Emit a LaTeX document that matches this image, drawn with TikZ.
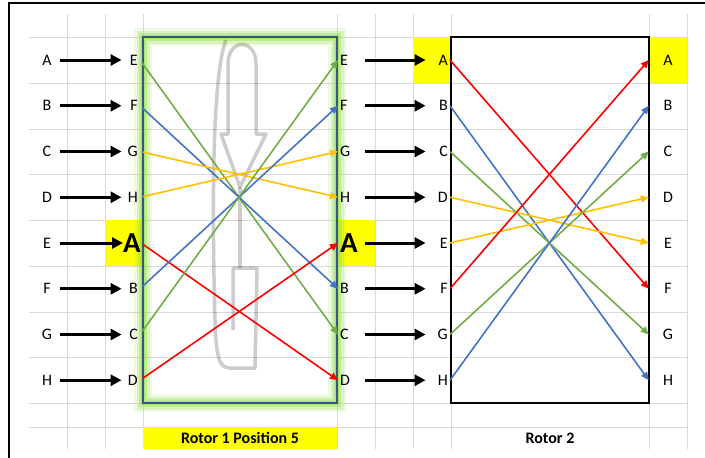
\documentclass[tikz,border=0pt]{standalone}
\usepackage{fontspec}
\setmainfont{Carlito}
\usepackage{tikz}
\usetikzlibrary{arrows.meta}

\definecolor{wred}{RGB}{255,0,0}
\definecolor{wblue}{RGB}{68,114,196}
\definecolor{wgreen}{RGB}{112,173,71}
\definecolor{wyellow}{RGB}{255,192,0}
\definecolor{hilite}{RGB}{255,255,0}
\definecolor{cellgray}{RGB}{217,217,217}
\definecolor{glowgreen}{RGB}{150,222,80}
\definecolor{rotorblue}{RGB}{56,87,122}

\begin{document}
\begin{tikzpicture}[x=1pt, y=-1pt, font=\fontsize{16}{19}\selectfont,
        cell/.style={cellgray, line width=0.8pt},
        key/.style={minimum width=26pt, inner sep=0pt},
        inpin/.style={anchor=east, text width=14pt, align=right, inner sep=2pt},
        outpin/.style={anchor=west, text width=23pt, align=left, inner sep=2pt},
        inpin2/.style={anchor=east, text width=20pt, align=right, inner sep=2pt},
        outpin2/.style={minimum width=38pt, inner sep=0pt},
        big/.style={font=\fontsize{29}{32}\selectfont\bfseries},
        caption/.style={font=\fontsize{16}{19}\selectfont\bfseries},
        feed/.style={line width=3pt, -{Triangle[length=11pt,width=11pt]}},
        wire/.style={line width=1.6pt, -{Triangle[length=8pt,width=7pt]}},
        turn/.style={black, opacity=0.2, line width=3.5pt, line join=round}]
    \useasboundingbox (0,0) rectangle (705,458);

    % sheet grid
    \foreach \y in {37,83,129,174,220,266,312,357,403,427}
        \draw[cell] (29,\y) -- (687,\y);
    \foreach \x in {67,105,143,337,375,413,451,649,687}
        \draw[cell] (\x,14) -- (\x,449);

    % highlighted cells
    \fill[hilite] (105,220) rectangle (143,266);
    \fill[hilite] (337,220) rectangle (375,266);
    \fill[hilite] (413,37) rectangle (451,83);
    \fill[hilite] (649,37) rectangle (687,83);
    \fill[hilite] (143,427) rectangle (337,449);

    % rotor 1 with its glow
    \foreach \w/\o in {18/0.15, 13/0.25, 8/0.4, 4/0.6}
        \draw[glowgreen, line width=\w pt, opacity=\o] (143,37) rectangle (337,403);
    \draw[rotorblue, line width=1.5pt] (143,37) rectangle (337,403);

    % turning arrow
    \draw[turn] (228,134) -- (228,64) .. controls (228,38) and (256,38) .. (256,64)
        -- (256,134) -- (266,134) -- (240,187) -- (221,134) -- cycle;
    \draw[turn] (226,40) .. controls (210,80) and (213,250) .. (215,320)
        .. controls (216,360) and (220,368) .. (230,368) -- (255,368)
        -- (257,268) -- (233,268) -- (233,330);
    \draw[turn] (240,187) -- (240,268);

    % rotor 2
    \draw[line width=1.6pt] (451,37) rectangle (649,403);

    % letters
    \foreach \l [count=\i] in {A,B,C,D,E,F,G,H}
        \node[key] (a\i) at (47,{14.25+45.75*\i}) {\l};
    \foreach \i/\l in {1/E,2/F,3/G,4/H,6/B,7/C,8/D} {
        \node[inpin] (b\i) at (140,{14.25+45.75*\i}) {\l};
        \node[outpin] (c\i) at (338,{14.25+45.75*\i}) {\l};
    }
    \node[big, anchor=east, inner sep=0pt] (b5) at (141,243) {A};
    \node[big, outpin] (c5) at (338,243) {A};
    \foreach \l [count=\i] in {A,B,C,D,E,F,G,H} {
        \node[inpin2] (d\i) at (450,{14.25+45.75*\i}) {\l};
        \node[outpin2] (e\i) at (668,{14.25+45.75*\i}) {\l};
    }

    % input arrows
    \foreach \i in {1,...,8} {
        \draw[feed] (a\i) -- (b\i);
        \draw[feed] (c\i) -- (d\i);
    }

    % wiring
    \foreach \s/\t/\c in {1/7/wgreen, 2/6/wblue, 3/4/wyellow, 4/3/wyellow,
                          5/8/wred, 6/2/wblue, 7/1/wgreen, 8/5/wred}
        \draw[wire, \c, shorten <=3pt] (b\s.east) -- (c\t.west);
    \foreach \s/\t/\c in {1/6/wred, 2/8/wblue, 3/7/wgreen, 4/5/wyellow,
                          5/4/wyellow, 6/1/wred, 7/3/wgreen, 8/2/wblue}
        \draw[wire, \c] (d\s.east) -- (e\t.west);

    % captions
    \node[caption] (r1) at (240,438) {Rotor 1 Position 5};
    \node[caption] (r2) at (550,438) {Rotor 2};

    % page frame
    \draw[line width=2pt] (9,458) -- (9,3) -- (705,3);
\end{tikzpicture}
\end{document}
